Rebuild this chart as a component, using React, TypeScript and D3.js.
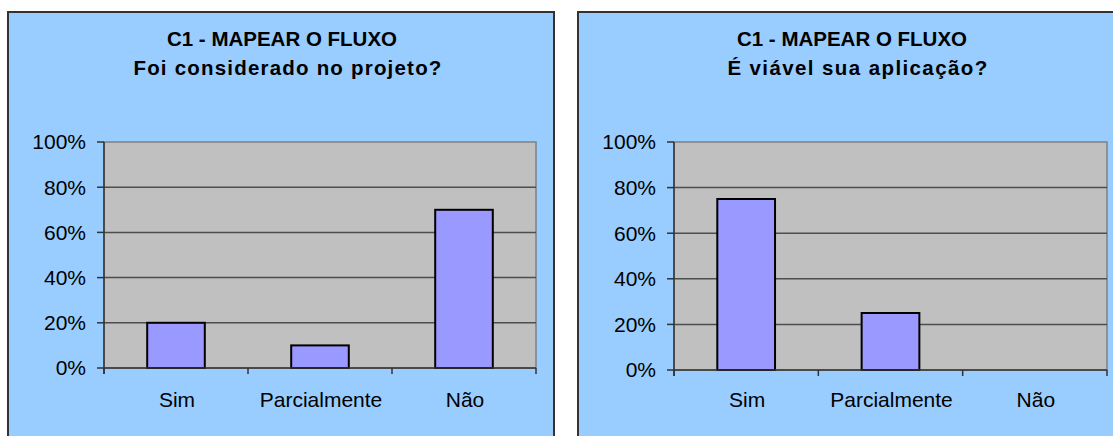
import React from "react";
import * as d3 from "d3";

// values
const categories = ["Sim", "Parcialmente", "Não"];
const consideradoValues = [0.2, 0.1, 0.7];
const viavelValues = [0.75, 0.25, 0];
const yTicks = [0, 0.2, 0.4, 0.6, 0.8, 1];
const titleLine1 = "C1 - MAPEAR O FLUXO";
const subtitleLeft = "Foi considerado no projeto?";
const subtitleRight = "É viável sua aplicação?";

const FONT = "'Liberation Sans', Arial, Helvetica, sans-serif";

type PanelProps = {
  x: number;
  subtitle: string;
  subtitleSpacing: number;
  values: number[];
  plot: { left: number; right: number; top: number; bottom: number };
};

const Panel = ({ x, subtitle, subtitleSpacing, values, plot }: PanelProps) => {
  const panelW = 546;
  const cx = x + panelW / 2;

  const xScale = d3
    .scaleBand<string>()
    .domain(categories)
    .range([plot.left, plot.right])
    .paddingInner(0.6)
    .paddingOuter(0.3);

  const yScale = d3.scaleLinear().domain([0, 1]).range([plot.bottom, plot.top]);
  const fmt = d3.format(".0%");

  // category boundaries for the x tick marks
  const step = (plot.right - plot.left) / categories.length;
  const boundaries = d3.range(categories.length + 1).map(i => plot.left + i * step);

  return (
    <g>
      <rect x={x} y={12} width={panelW} height={440} fill="#99CCFF" stroke="#333" strokeWidth={2} />

      <text x={cx + 1} y={46} textAnchor="middle" fontFamily={FONT} fontWeight="bold" fontSize={20.5} fill="#000">
        {titleLine1}
      </text>
      <text
        x={cx + 7}
        y={75}
        textAnchor="middle"
        fontFamily={FONT}
        fontWeight="bold"
        fontSize={20.5}
        letterSpacing={subtitleSpacing}
        fill="#000"
      >
        {subtitle}
      </text>

      {/* plot area */}
      <rect
        x={plot.left}
        y={plot.top}
        width={plot.right - plot.left}
        height={plot.bottom - plot.top}
        fill="#C0C0C0"
        stroke="#808080"
        strokeWidth={1.5}
      />

      {/* gridlines */}
      {yTicks.slice(1, -1).map(t => (
        <line
          key={t}
          x1={plot.left}
          x2={plot.right}
          y1={yScale(t)}
          y2={yScale(t)}
          stroke="#4d4d4d"
          strokeWidth={1.5}
        />
      ))}

      {/* bars */}
      {values.map((v, i) =>
        v > 0 ? (
          <rect
            key={categories[i]}
            x={xScale(categories[i])}
            y={yScale(v)}
            width={xScale.bandwidth()}
            height={yScale(0) - yScale(v)}
            fill="#9999FF"
            stroke="#000"
            strokeWidth={2}
          />
        ) : null
      )}

      {/* y axis */}
      <line x1={plot.left} x2={plot.left} y1={plot.top} y2={plot.bottom + 6} stroke="#333" strokeWidth={1.5} />
      {yTicks.map(t => (
        <g key={t}>
          <line x1={plot.left - 7} x2={plot.left} y1={yScale(t)} y2={yScale(t)} stroke="#333" strokeWidth={1.5} />
          <text
            x={plot.left - 18}
            y={yScale(t)}
            dy="0.35em"
            textAnchor="end"
            fontFamily={FONT}
            fontSize={21}
            fill="#000"
          >
            {fmt(t)}
          </text>
        </g>
      ))}

      {/* x axis */}
      <line x1={plot.left} x2={plot.right} y1={plot.bottom} y2={plot.bottom} stroke="#333" strokeWidth={1.5} />
      {boundaries.map((b, i) => (
        <line key={i} x1={b} x2={b} y1={plot.bottom} y2={plot.bottom + 6} stroke="#333" strokeWidth={1.5} />
      ))}
      {categories.map(c => (
        <text
          key={c}
          x={(xScale(c) ?? 0) + xScale.bandwidth() / 2 + 1}
          y={407}
          textAnchor="middle"
          fontFamily={FONT}
          fontSize={21}
          fill="#000"
        >
          {c}
        </text>
      ))}
    </g>
  );
};

export default function App() {
  return (
    <svg
      width={1113}
      height={436}
      style={{ position: "absolute", left: 0, top: 0, background: "#fff" }}
    >
      <Panel
        x={8}
        subtitle={subtitleLeft}
        subtitleSpacing={1.2}
        values={consideradoValues}
        plot={{ left: 104, right: 536, top: 142, bottom: 368 }}
      />
      <Panel
        x={578}
        subtitle={subtitleRight}
        subtitleSpacing={1.4}
        values={viavelValues}
        plot={{ left: 674, right: 1107, top: 142, bottom: 370 }}
      />
    </svg>
  );
}
